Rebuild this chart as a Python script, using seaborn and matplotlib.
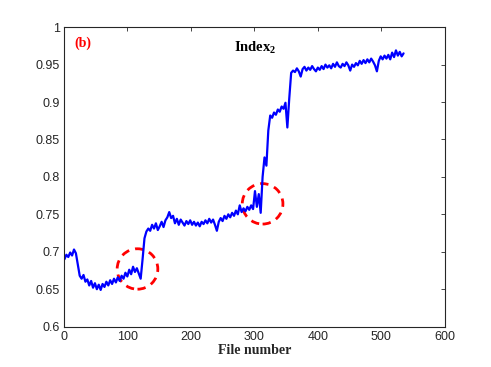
import numpy as np
import pandas as pd
import matplotlib
matplotlib.use("Agg")
import matplotlib.pyplot as plt
from matplotlib.patches import Ellipse
import seaborn as sns

# file numbers (every third file) and index values
file_number = np.arange(1, 536, 3)
index2 = [
    0.690, 0.696, 0.693, 0.699, 0.695, 0.703, 0.698, 0.683, 0.668, 0.664,
    0.669, 0.660, 0.663, 0.655, 0.661, 0.652, 0.658, 0.650, 0.656, 0.649,
    0.657, 0.653, 0.660, 0.655, 0.662, 0.657, 0.664, 0.659, 0.666, 0.661,
    0.668, 0.664, 0.672, 0.667, 0.676, 0.670, 0.680, 0.673, 0.678, 0.671,
    0.664, 0.690, 0.718, 0.727, 0.731, 0.728, 0.736, 0.731, 0.738, 0.729,
    0.734, 0.740, 0.733, 0.742, 0.746, 0.753, 0.745, 0.748, 0.738, 0.744,
    0.736, 0.743, 0.739, 0.735, 0.741, 0.737, 0.742, 0.736, 0.740, 0.735,
    0.739, 0.734, 0.740, 0.737, 0.742, 0.738, 0.744, 0.739, 0.743, 0.736,
    0.728, 0.740, 0.745, 0.741, 0.748, 0.744, 0.750, 0.746, 0.752, 0.748,
    0.755, 0.750, 0.762, 0.753, 0.758, 0.754, 0.760, 0.756, 0.762, 0.757,
    0.781, 0.760, 0.777, 0.752, 0.800, 0.826, 0.815, 0.862, 0.882, 0.879,
    0.886, 0.883, 0.890, 0.887, 0.894, 0.891, 0.899, 0.866, 0.905, 0.939,
    0.942, 0.940, 0.945, 0.941, 0.934, 0.944, 0.947, 0.942, 0.946, 0.943,
    0.948, 0.944, 0.941, 0.946, 0.943, 0.948, 0.944, 0.950, 0.946, 0.949,
    0.945, 0.951, 0.947, 0.953, 0.948, 0.946, 0.951, 0.948, 0.953, 0.949,
    0.942, 0.950, 0.947, 0.952, 0.949, 0.955, 0.951, 0.956, 0.952, 0.957,
    0.953, 0.958, 0.954, 0.949, 0.941, 0.955, 0.961, 0.957, 0.962, 0.958,
    0.963, 0.957, 0.966, 0.960, 0.969, 0.962, 0.967, 0.961, 0.965,
]
# highlighted regions (centre file number, centre value)
circle_x = [116, 313]
circle_y = [0.677, 0.764]

df = pd.DataFrame({"File number": file_number, "Index2": index2})

sns.set_style("white")
plt.rcParams["font.family"] = ["Liberation Sans", "DejaVu Sans"]
plt.rcParams["mathtext.fontset"] = "custom"
plt.rcParams["mathtext.bf"] = "Liberation Serif:bold"
plt.rcParams["mathtext.rm"] = "Liberation Serif"

fig = plt.figure(figsize=(4.91, 3.67), dpi=100)
ax = fig.add_axes([0.13, 0.11, 0.776, 0.816])

sns.lineplot(data=df, x="File number", y="Index2", color="#0000ff", lw=1.6, ax=ax)

for cx, cy in zip(circle_x, circle_y):
    ax.add_patch(Ellipse((cx, cy), 64, 0.054, fill=False, ec="#ff0000",
                         ls=(0, (3, 2.2)), lw=2))

ax.set_xlim(0, 600)
ax.set_ylim(0.6, 1)
ax.set_xticks(range(0, 601, 100))
ax.set_yticks(np.arange(0.6, 1.001, 0.05))
ax.set_yticklabels(["0.6", "0.65", "0.7", "0.75", "0.8", "0.85", "0.9", "0.95", "1"])
ax.tick_params(direction="in", length=3, width=0.6, top=True, right=True,
               labelsize=9, colors="#262626", pad=3)
for s in ax.spines.values():
    s.set_color("#262626")
    s.set_linewidth(0.8)

ax.set_xlabel("File number", family="Liberation Serif", weight="bold",
              fontsize=10, color="#262626", labelpad=1)
ax.set_ylabel("")

ax.text(16, 0.979, "(b)", color="#ff0000", family="Liberation Serif",
        weight="bold", fontsize=10, va="center")
ax.text(301, 0.973, r"Index$_{\mathbf{2}}$", color="black", family="Liberation Serif",
        weight="bold", fontsize=10.5, ha="center", va="center")

fig.savefig("out.png", dpi=100)
